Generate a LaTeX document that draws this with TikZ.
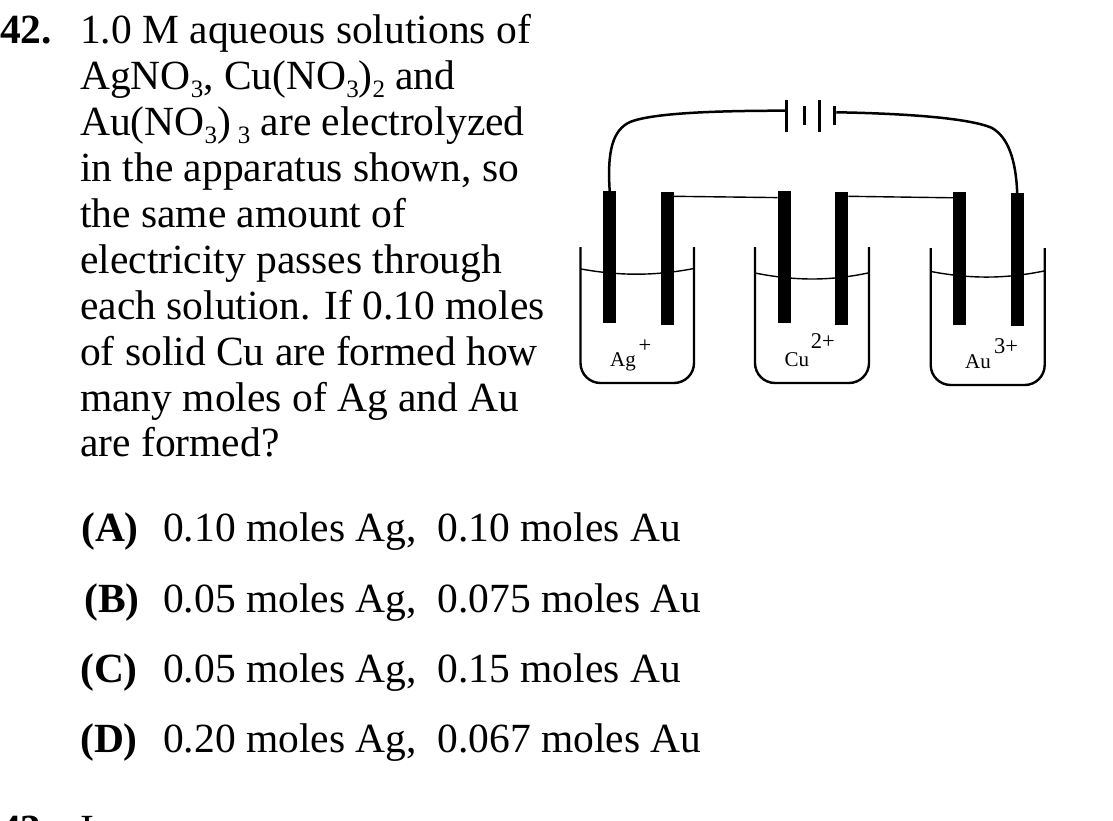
\documentclass[tikz,border=0pt]{standalone}
\usepackage{fontspec}
\setmainfont{Liberation Serif}
\usepackage{tikz}
\usetikzlibrary{positioning,calc}

\newcommand{\subnum}[1]{\raisebox{-8pt}{\fontsize{25}{25}\selectfont #1}}

\tikzset{
	qtext/.style={anchor=base west, inner sep=0pt, font=\fontsize{41.5}{46}\selectfont},
	ion/.style={anchor=base west, inner sep=0pt, font=\fontsize{21}{24}\selectfont},
	ioncharge/.style={anchor=base west, inner sep=0pt, font=\fontsize{22.5}{24}\selectfont},
	electrode/.style={fill=black, inner sep=0pt, minimum width=13pt, minimum height=132pt},
	longplate/.style={fill=black, inner sep=0pt, minimum width=2.7pt, minimum height=32pt},
	shortplate/.style={fill=black, inner sep=0pt, minimum width=2.7pt, minimum height=19pt},
	beaker/.style={line width=2.4pt, rounded corners=20pt},
	liquid/.style={line width=1.4pt},
	wire/.style={line width=2.5pt},
	link/.style={line width=1.4pt}
}

\begin{document}
\begin{tikzpicture}[x=1pt, y=-1pt]
		\clip (0,0) rectangle (1113,821);
		% question
		\node[qtext] (num42) at (0,44) {\textbf{42.}};
		\node[qtext] (line1) at (80,44) {1.0 M aqueous solutions of};
		\node[qtext] (line2) at (80,90) {AgNO\subnum{3}, Cu(NO\subnum{3})\subnum{2} and};
		\node[qtext] (line3) at (80,136) {Au(NO\subnum{3})\,\subnum{3} are electrolyzed};
		\node[qtext] (line4) at (80,182) {in the apparatus shown, so};
		\node[qtext] (line5) at (80,227) {the same amount of};
		\node[qtext] (line6) at (80,273) {electricity passes through};
		\node[qtext] (line7) at (80,319) {each solution. If 0.10 moles};
		\node[qtext] (line8) at (80,365) {of solid Cu are formed how};
		\node[qtext] (line9) at (80,411) {many moles of Ag and Au};
		\node[qtext] (line10) at (80,456) {are formed?};
		% choices
		\node[qtext] (labA) at (81,541) {\textbf{(A)}};
		\node[qtext] (choiceA) at (163,541) {0.10 moles Ag,~~0.10 moles Au};
		\node[qtext] (labB) at (84,612) {\textbf{(B)}};
		\node[qtext] (choiceB) at (163,612) {0.05 moles Ag,~~0.075 moles Au};
		\node[qtext] (labC) at (80,682) {\textbf{(C)}};
		\node[qtext] (choiceC) at (163,682) {0.05 moles Ag,~~0.15 moles Au};
		\node[qtext] (labD) at (80,752) {\textbf{(D)}};
		\node[qtext] (choiceD) at (163,752) {0.20 moles Ag,~~0.067 moles Au};
		\node[qtext] (num43) at (0,843) {\textbf{43.}};
		\node[qtext] (line11) at (80,843) {I};
		% beakers
		\draw[beaker] (580.5,247) -- (580.5,383) -- (694,383) -- (694,247);
		\draw[beaker] (755,247) -- (755,383) -- (869,383) -- (869,247);
		\draw[beaker] (930.7,248) -- (930.7,385) -- (1044.7,385) -- (1044.7,248);
		% liquid levels
		\draw[liquid] (581,269) .. controls (620,276) and (655,276) .. (694,268.5);
		\draw[liquid] (755,273) .. controls (795,281) and (830,281) .. (868,273);
		\draw[liquid] (931,271.5) .. controls (970,279) and (1005,279) .. (1044,271);
		% electrodes
		\node[electrode] (ag1) at (609.7,257.3) {};
		\node[electrode] (ag2) at (667,258.5) {};
		\node[electrode] (cu1) at (784.3,257.3) {};
		\node[electrode] (cu2) at (841.7,258.5) {};
		\node[electrode] (au1) at (959.8,258.5) {};
		\node[electrode] (au2) at (1017.2,259.5) {};
		% battery
		\node[longplate] (bat1) at (786.7,115.8) {};
		\node[shortplate] (bat2) at (804.3,115.7) {};
		\node[longplate] (bat3) at (819.3,115.8) {};
		\node[shortplate] (bat4) at (834.7,115.7) {};
		% wires
		\draw[wire] (ag1.north) .. controls (607,150) and (613,130) .. (630,122) .. controls (655,112) and (730,110.7) .. (bat1.west |- 0,110.7);
		\draw[wire] (bat4.east |- 0,112.3) .. controls (880,113) and (965,116) .. (992,128) .. controls (1008,137) and (1016,160) .. (au2.north);
		\draw[link] ($(ag2.north east)+(0,4)$) -- ($(cu1.north west)+(0,6.5)$);
		\draw[link] ($(cu2.north east)+(0,4)$) -- ($(au1.north west)+(0,5.5)$);
		% ions
		\node[ion] (agion) at (610,366.7) {Ag};
		\node[ioncharge] (agplus) at (638.5,352) {+};
		\node[ion] (cuion) at (784.3,366) {Cu};
		\node[ioncharge] (cuplus) at (810.7,348) {2+};
		\node[ion] (auion) at (965,368) {Au};
		\node[ioncharge] (auplus) at (994,353) {3+};
\end{tikzpicture}
\end{document}
